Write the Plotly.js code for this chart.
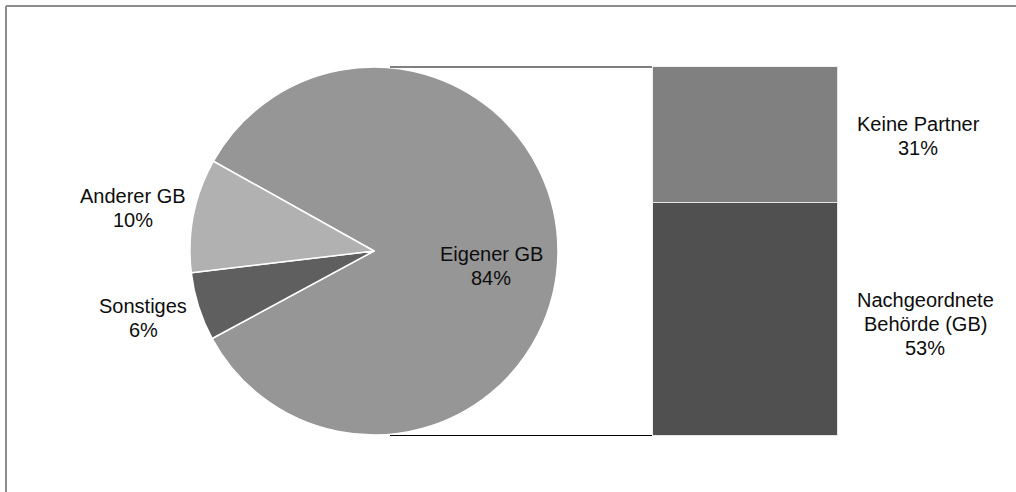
<!DOCTYPE html>
<html>
<head>
<meta charset="utf-8">
<script src="https://cdn.plot.ly/plotly-3.0.1.min.js"></script>
<style>
  html, body { margin: 0; padding: 0; background: #fff; }
  #chart { width: 1016px; height: 492px; }
</style>
</head>
<body>
<div id="chart"></div>
<script>
// Pie: share of all cases by responsible unit (clockwise order)
const pieLabels = ['Eigener GB', 'Sonstiges', 'Anderer GB'];
const pieValues = [84, 6, 10];
const pieColors = ['#969696', '#5f5f5f', '#b1b1b1'];

// Bar: breakdown of the "Eigener GB" slice
const barLabels = ['Nachgeordnete<br>Behörde (GB)', 'Keine Partner'];
const barValues = [53, 31];
const barColors = ['#505050', '#808080'];

const W = 1016, H = 492;
const px = x => x / W;          // pixel -> paper x
const py = y => (H - y) / H;    // pixel -> paper y

const pieTrace = {
  type: 'pie',
  labels: pieLabels,
  values: pieValues,
  sort: false,
  direction: 'clockwise',
  rotation: -60.8,
  marker: { colors: pieColors, line: { color: '#ffffff', width: 1.5 } },
  textinfo: 'none',
  hoverinfo: 'label+percent',
  showlegend: false,
  domain: { x: [px(190), px(558)], y: [py(435), py(67)] }
};

const barTraces = barLabels.map((lab, i) => ({
  type: 'bar',
  x: ['GB'],
  y: [barValues[i]],
  name: lab,
  width: 1,
  marker: { color: barColors[i], line: { color: '#e4e4e4', width: 1.2 } },
  hoverinfo: 'name+y',
  showlegend: false,
  xaxis: 'x',
  yaxis: 'y'
}));

const barTotal = barValues.reduce((a, b) => a + b, 0);

// Text labels, one annotation per line
const labelFont = { family: 'Liberation Sans, Arial, sans-serif', size: 20, color: '#0d0d0d' };
const lineGap = 24;
function labelLines(lines, cx, firstMid) {
  return lines.map((t, k) => ({
    xref: 'paper', yref: 'paper',
    x: px(cx), y: py(firstMid + k * lineGap),
    text: t, showarrow: false,
    xanchor: 'center', yanchor: 'middle',
    font: labelFont
  }));
}

const annotations = [].concat(
  labelLines([pieLabels[2], pieValues[2] + '%'], 133, 196),
  labelLines([pieLabels[1], pieValues[1] + '%'], 143, 306),
  labelLines([pieLabels[0], pieValues[0] + '%'], 491, 254),
  labelLines([barLabels[1], barValues[1] + '%'], 918, 124),
  labelLines(barLabels[0].split('<br>').concat([barValues[0] + '%']), 925, 300)
);

const shapes = [
  // connector lines from the pie to the bar
  { type: 'line', xref: 'paper', yref: 'y', x0: px(390), x1: px(652), y0: barTotal, y1: barTotal,
    line: { color: '#000000', width: 2 } },
  { type: 'line', xref: 'paper', yref: 'y', x0: px(390), x1: px(652), y0: 0, y1: 0,
    line: { color: '#000000', width: 2 } },
  // outer frame (top and left edges)
  { type: 'line', xref: 'paper', yref: 'paper', x0: px(6), x1: 1, y0: py(6), y1: py(6),
    line: { color: '#8c8c8c', width: 2 } },
  { type: 'line', xref: 'paper', yref: 'paper', x0: px(6), x1: px(6), y0: py(6), y1: 0,
    line: { color: '#8c8c8c', width: 2 } }
];

const layout = {
  width: W, height: H,
  margin: { l: 0, r: 0, t: 0, b: 0 },
  paper_bgcolor: '#ffffff',
  plot_bgcolor: 'rgba(0,0,0,0)',
  barmode: 'stack',
  bargap: 0,
  xaxis: { domain: [px(652.5), px(838)], range: [-0.5, 0.5], visible: false, fixedrange: true },
  yaxis: { domain: [py(436), py(66.5)], range: [0, barTotal], visible: false, fixedrange: true },
  annotations: annotations,
  shapes: shapes
};

Plotly.newPlot('chart', [pieTrace].concat(barTraces), layout, { displayModeBar: false, staticPlot: true });
</script>
</body>
</html>
